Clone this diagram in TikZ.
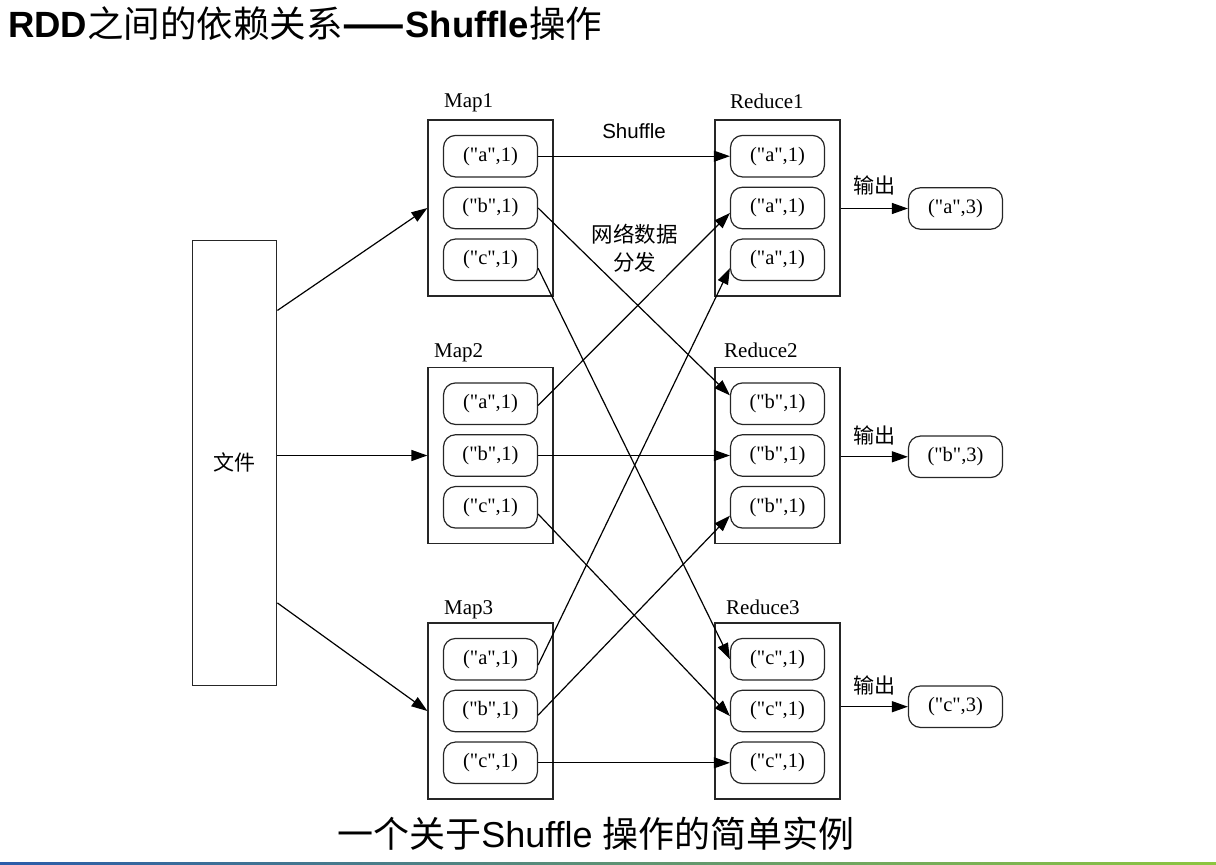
\documentclass[tikz,border=0pt]{standalone}
\usepackage{fontspec}
\setmainfont{Liberation Serif}[Ligatures=TeXOff]
\setsansfont{Liberation Sans}
\newfontfamily\zhfont{Noto Sans CJK SC}
\usetikzlibrary{arrows.meta,calc}
\definecolor{barblue}{HTML}{2A5CAA}
\definecolor{bargreen}{HTML}{8DC63F}
\tikzset{
	stage/.style={draw=black!85, line width=1.2pt, minimum width=125pt, minimum height=176pt, inner sep=0pt},
	pair/.style={draw=black!85, line width=1.2pt, rounded corners=12pt, minimum width=94pt, minimum height=41.5pt, inner sep=0pt, font=\fontsize{20.5}{24}\selectfont},
	flow/.style={line width=1.2pt, -{Triangle[length=16pt,width=11pt]}},
	tag/.style={anchor=base west, inner sep=0pt, font=\fontsize{21}{25}\selectfont},
	zhtag/.style={inner sep=1pt, font=\zhfont\fontsize{21}{25}\selectfont},
}

\begin{document}
\begin{tikzpicture}[x=1pt, y=-1pt]
			%%%%% START %%%%%
			\useasboundingbox (0,0) rectangle (1216,865);
			
			\node[anchor=base west, inner sep=0pt] (title) at (8,37) {\fontsize{36.5}{40}\selectfont\sffamily\bfseries RDD{\zhfont\mdseries 之间的依赖关系}{\zhfont ——}Shuffle{\zhfont\mdseries 操作}};
			
			\node[stage, minimum width=84pt, minimum height=445pt, font=\zhfont\fontsize{21}{25}\selectfont] (file) at (234.8,462.6) {文件};
			
			\node[stage] (map1) at (490.5,208) {};
			\node[stage] (map2) at (490.5,455.5) {};
			\node[stage] (map3) at (490.5,711) {};
			\node[stage] (red1) at (777.5,208) {};
			\node[stage] (red2) at (777.5,455.5) {};
			\node[stage] (red3) at (777.5,711) {};
			
			\node[tag] (lmap1) at (444,107) {Map1};
			\node[tag] (lmap2) at (434,357.5) {Map2};
			\node[tag] (lmap3) at (444,614.5) {Map3};
			\node[tag] (lred1) at (730,108) {Reduce1};
			\node[tag] (lred2) at (724,357.5) {Reduce2};
			\node[tag] (lred3) at (726,614.5) {Reduce3};
			
			\foreach \i/\k in {1/a,2/b,3/c} {
				\node[pair] (m\i a) at ($(map\i)+(0,-51.8)$) {("a",1)};
				\node[pair] (m\i b) at (map\i) {("b",1)};
				\node[pair] (m\i c) at ($(map\i)+(0,51.8)$) {("c",1)};
				\node[pair] (r\i 1) at ($(red\i)+(0,-51.8)$) {("\k",1)};
				\node[pair] (r\i 2) at (red\i) {("\k",1)};
				\node[pair] (r\i 3) at ($(red\i)+(0,51.8)$) {("\k",1)};
			}
			
			\node[pair] (out1) at (955.5,208.5) {("a",3)};
			\node[pair] (out2) at (955.5,456.8) {("b",3)};
			\node[pair] (out3) at (955.5,706.7) {("c",3)};
			
			\draw[flow] ($(file.north east)!0.159!(file.south east)$) -- (map1.west);
			\draw[flow] (file.east |- map2) -- (map2.west);
			\draw[flow] ($(file.north east)!0.8145!(file.south east)$) -- (map3.west);
			
			\draw[flow] (m1a.east) -- (r11.west);
			\draw[flow] (m1b.east) -- (r21.170);
			\draw[flow] (m1c.350) -- (r31.west);
			\draw[flow] (m2a.358) -- (r12.186);
			\draw[flow] (m2b.east) -- (r22.west);
			\draw[flow] (m2c.352) -- (r32.186);
			\draw[flow] (m3a.353) -- (r13.190);
			\draw[flow] (m3b.355) -- (r23.190);
			\draw[flow] (m3c.east) -- (r33.west);
			
			\node[anchor=base, inner sep=0pt, font=\sffamily\fontsize{20.5}{24}\selectfont] (shuffle) at (634,138) {Shuffle};
			\node[align=center, inner sep=0pt, font=\zhfont\fontsize{21.5}{28.5}\selectfont] (net) at (634.5,248) {网络数据\\分发};
			
			\draw[flow] (red1.east |- out1) -- node[zhtag, above=12pt] (say1) {输出} (out1);
			\draw[flow] (red2.east |- out2) -- node[zhtag, above=10pt] (say2) {输出} (out2);
			\draw[flow] (red3.east |- out3) -- node[zhtag, above=10pt] (say3) {输出} (out3);
			
			\node[inner sep=0pt] (caption) at (596,834) {\fontsize{36}{40}\selectfont{\zhfont 一个关于}\sffamily Shuffle {\zhfont 操作的简单实例}};
			
			\shade[left color=barblue, right color=bargreen] (0,862) rectangle (1216,865);
			%%%%% END %%%%%
\end{tikzpicture}
\end{document}
